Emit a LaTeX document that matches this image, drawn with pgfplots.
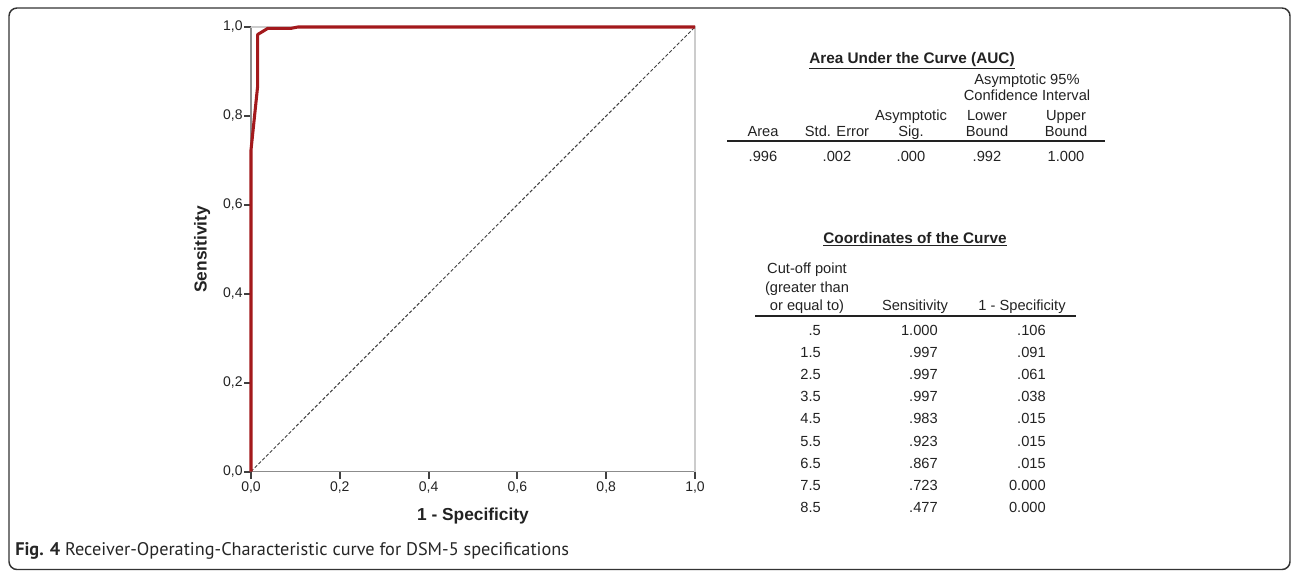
\documentclass[border=0pt]{standalone}
\usepackage{fontspec}
\setmainfont{Liberation Sans}
\newfontfamily\capfont{PT Sans}
\usepackage{pgfplots}
\pgfplotsset{compat=1.18}
\definecolor{rocred}{HTML}{A3191C}
\definecolor{txt}{HTML}{222222}
\definecolor{axgray}{HTML}{8C8C8C}
\definecolor{boxgray}{HTML}{CCCCCC}
\newcommand{\tf}{\fontsize{11}{13}\selectfont}
\newcommand{\ttl}{\fontsize{11.5}{14}\selectfont\bfseries}
\begin{document}
\begin{tikzpicture}
\begin{scope}[x=0.75pt,y=-0.75pt]
\path[use as bounding box] (0,0) rectangle (1292,571);
\draw[line width=1.1pt, black!80, rounded corners=6pt] (9,8) rectangle (1290,569.5);
\end{scope}
\begin{axis}[
  at={(188.25pt,-353.625pt)}, anchor=south west,
  width=333pt, height=333.4pt, scale only axis,
  xmin=0, xmax=1, ymin=0, ymax=1,
  axis x line*=bottom, axis y line*=left,
  axis line style={-, axgray, line width=1.4pt},
  tick style={black!75, line width=1.5pt},
  tick align=outside, major tick length=5.25pt,
  xtick={0,0.2,0.4,0.6,0.8,1}, ytick={0,0.2,0.4,0.6,0.8,1},
  /pgf/number format/.cd, fixed, fixed zerofill, precision=1, use comma, assume math mode=true,
  /pgfplots/.cd,
  tick label style={font=\fontsize{10.5}{12}\selectfont, text=txt},
  yticklabel style={inner sep=0.8pt},
  xticklabel style={inner sep=2pt},
  xlabel={1 - Specificity}, ylabel={Sensitivity},
  every axis x label/.style={at={(axis description cs:0.5,-0.1025)}, anchor=mid, font=\fontsize{13}{15}\selectfont\bfseries, text=txt},
  every axis y label/.style={at={(axis description cs:-0.108,0.5)}, rotate=90, anchor=mid, font=\fontsize{13}{15}\selectfont\bfseries, text=txt},
  clip=false,
]
\draw[boxgray, line width=1pt] (axis cs:0,1) -- (axis cs:1,1) -- (axis cs:1,0);
\addplot[black!75, line width=0.75pt, dash pattern=on 2.5pt off 1.5pt] coordinates {(0,0) (1,1)};
\addplot[rocred, line width=2.3pt, line join=round] coordinates {
(0,0) (0,0.477) (0,0.723) (0.015,0.867) (0.015,0.923) (0.015,0.983) (0.038,0.997) (0.061,0.997) (0.091,0.997) (0.106,1) (1,1)};
\end{axis}
\begin{scope}[x=0.75pt,y=-0.75pt, every node/.style={text=txt, inner sep=0pt}]
% table 1
\node[anchor=mid, font=\ttl] at (912,60) {\underline{Area Under the Curve (AUC)}};
\node[anchor=mid, font=\tf] at (1027,80.7) {Asymptotic 95\%};
\node[anchor=mid, font=\tf] at (1027,97.3) {Confidence Interval};
\node[anchor=mid, font=\tf] at (911,116.7) {Asymptotic};
\node[anchor=mid, font=\tf] at (987,116.7) {Lower};
\node[anchor=mid, font=\tf] at (1066,116.7) {Upper};
\node[anchor=mid, font=\tf] at (763,133.3) {Area};
\node[anchor=mid, font=\tf] at (837,133.3) {Std. Error};
\node[anchor=mid, font=\tf] at (911,133.3) {Sig.};
\node[anchor=mid, font=\tf] at (987,133.3) {Bound};
\node[anchor=mid, font=\tf] at (1066,133.3) {Bound};
\draw[txt, line width=1.1pt] (727,141) -- (1105,141);
\node[anchor=mid, font=\tf] at (763,158) {.996};
\node[anchor=mid, font=\tf] at (837,158) {.002};
\node[anchor=mid, font=\tf] at (911,158) {.000};
\node[anchor=mid, font=\tf] at (987,158) {.992};
\node[anchor=mid, font=\tf] at (1066,158) {1.000};
% table 2
\node[anchor=mid, font=\ttl] at (915,240) {\underline{Coordinates of the Curve}};
\node[anchor=mid, font=\tf] at (807,270) {Cut-off point};
\node[anchor=mid, font=\tf] at (807,288.5) {(greater than};
\node[anchor=mid, font=\tf] at (807,307) {or equal to)};
\node[anchor=mid, font=\tf] at (915,307) {Sensitivity};
\node[anchor=mid, font=\tf] at (1022,307) {1 - Specificity};
\draw[txt, line width=1.1pt] (755,316) -- (1076,316);
\foreach \a/\b/\c [count=\i from 0] in {.5/1.000/.106, 1.5/.997/.091, 2.5/.997/.061, 3.5/.997/.038, 4.5/.983/.015, 5.5/.923/.015, 6.5/.867/.015, 7.5/.723/0.000, 8.5/.477/0.000}{
  \node[anchor=mid east, font=\tf] at (821,332+22.1*\i) {\a};
  \node[anchor=mid east, font=\tf] at (938,332+22.1*\i) {\b};
  \node[anchor=mid east, font=\tf] at (1046,332+22.1*\i) {\c};
}
% caption
\node[anchor=mid west, font=\capfont\fontsize{13.7}{16}\selectfont, text=black!85] at (15,552) {\textbf{Fig. 4} Receiver-Operating-Characteristic curve for DSM-5 specifications};
\end{scope}
\end{tikzpicture}
\end{document}
